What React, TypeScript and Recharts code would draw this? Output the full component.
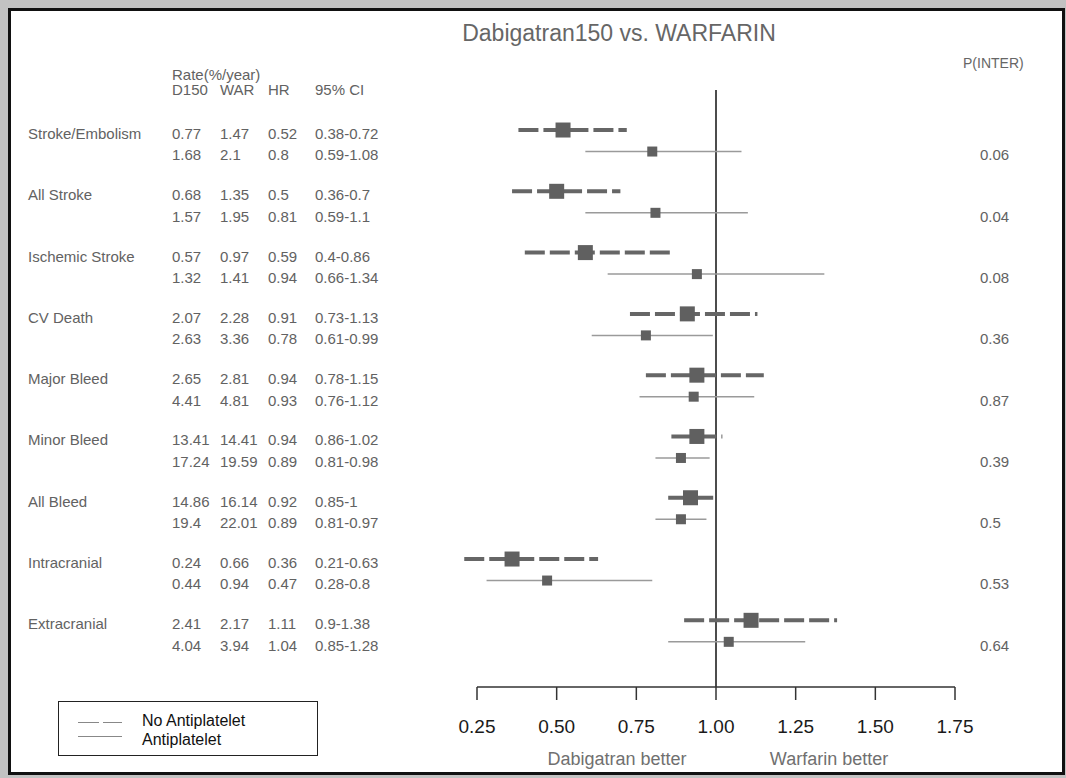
import React from 'react';
import { ComposedChart, Scatter, XAxis, YAxis, ReferenceLine } from 'recharts';

const outcomes = [
  'Stroke/Embolism', 'All Stroke', 'Ischemic Stroke', 'CV Death', 'Major Bleed',
  'Minor Bleed', 'All Bleed', 'Intracranial', 'Extracranial',
];

// no antiplatelet
const d150NoAP = [0.77, 0.68, 0.57, 2.07, 2.65, 13.41, 14.86, 0.24, 2.41];
const warNoAP = [1.47, 1.35, 0.97, 2.28, 2.81, 14.41, 16.14, 0.66, 2.17];
const hrNoAP = [0.52, 0.5, 0.59, 0.91, 0.94, 0.94, 0.92, 0.36, 1.11];
const loNoAP = [0.38, 0.36, 0.4, 0.73, 0.78, 0.86, 0.85, 0.21, 0.9];
const hiNoAP = [0.72, 0.7, 0.86, 1.13, 1.15, 1.02, 1, 0.63, 1.38];

// antiplatelet
const d150AP = [1.68, 1.57, 1.32, 2.63, 4.41, 17.24, 19.4, 0.44, 4.04];
const warAP = [2.1, 1.95, 1.41, 3.36, 4.81, 19.59, 22.01, 0.94, 3.94];
const hrAP = [0.8, 0.81, 0.94, 0.78, 0.93, 0.89, 0.89, 0.47, 1.04];
const loAP = [0.59, 0.59, 0.66, 0.61, 0.76, 0.81, 0.81, 0.28, 0.85];
const hiAP = [1.08, 1.1, 1.34, 0.99, 1.12, 0.98, 0.97, 0.8, 1.28];

const pInter = [0.06, 0.04, 0.08, 0.36, 0.87, 0.39, 0.5, 0.53, 0.64];

const xTicks = [0.25, 0.5, 0.75, 1.0, 1.25, 1.5, 1.75];

const SUB = 0.351; // second line of each outcome, in row units

type Row = {
  pos: number;
  first: boolean;
  label: string;
  d150: number;
  war: number;
  hr: number;
  lo: number;
  hi: number;
  p: number;
};

const rows: Row[] = [];
outcomes.forEach((o, i) => {
  rows.push({ pos: i, first: true, label: o, d150: d150NoAP[i], war: warNoAP[i], hr: hrNoAP[i], lo: loNoAP[i], hi: hiNoAP[i], p: pInter[i] });
  rows.push({ pos: i + SUB, first: false, label: o, d150: d150AP[i], war: warAP[i], hr: hrAP[i], lo: loAP[i], hi: hiAP[i], p: pInter[i] });
});
const noApRows = rows.filter(r => r.first);
const apRows = rows.filter(r => !r.first);

const TXT = '#626262';
const FONT = '"Liberation Sans", Arial, sans-serif';

const RowTick = (props: any) => {
  const { y, payload } = props;
  const r = rows.find(row => Math.abs(row.pos - Number(payload?.value)) < 1e-6);
  if (!r) return null;
  const ty = y + 3.7;
  const common = { y: ty, dy: '0.35em', fill: TXT, fontSize: 15, fontFamily: FONT };
  return (
    <g>
      {r.first && <text x={28} {...common}>{r.label}</text>}
      <text x={172} {...common}>{String(r.d150)}</text>
      <text x={220} {...common}>{String(r.war)}</text>
      <text x={268} {...common}>{String(r.hr)}</text>
      <text x={315} {...common}>{`${r.lo}-${r.hi}`}</text>
      {!r.first && <text x={980} {...common}>{String(r.p)}</text>}
    </g>
  );
};

const square = (size: number) => (props: any) => {
  const { cx, cy } = props;
  return <rect x={cx - size / 2} y={cy - size / 2} width={size} height={size} fill="#606060" />;
};

const Txt = ({ x, y, size, color, center, children }: any) => (
  <div
    style={{
      position: 'absolute',
      left: x,
      top: y,
      transform: center ? 'translate(-50%, -50%)' : 'translateY(-50%)',
      fontSize: size,
      color,
      lineHeight: 1,
      whiteSpace: 'nowrap',
      fontFamily: FONT,
    }}
  >
    {children}
  </div>
);

export default function App() {
  return (
    <div style={{ position: 'absolute', left: 0, top: 0, width: 1066, height: 778, background: '#c2c2c2', overflow: 'hidden' }}>
      <div
        style={{
          position: 'absolute', left: 8, top: 8, width: 1057, height: 767,
          boxSizing: 'border-box', border: '3px solid #111', background: '#fff',
        }}
      />
      <Txt x={619} y={33} size={23} color="#666" center>Dabigatran150 vs. WARFARIN</Txt>
      <Txt x={963} y={63} size={14} color="#666">P(INTER)</Txt>
      <Txt x={172} y={74} size={15} color={TXT}>Rate(%/year)</Txt>
      <Txt x={172} y={89} size={15} color={TXT}>D150</Txt>
      <Txt x={220} y={89} size={15} color={TXT}>WAR</Txt>
      <Txt x={268} y={89} size={15} color={TXT}>HR</Txt>
      <Txt x={315} y={89} size={15} color={TXT}>95% CI</Txt>
      <Txt x={617} y={759} size={18} color="#707070" center>Dabigatran better</Txt>
      <Txt x={829} y={759} size={18} color="#707070" center>Warfarin better</Txt>

      <div style={{ position: 'absolute', left: 58, top: 701, width: 260, height: 55, boxSizing: 'border-box', border: '1px solid #222' }}>
        <svg width={80} height={55} style={{ position: 'absolute', left: 0, top: 0 }}>
          <line x1={19} x2={63} y1={20.5} y2={20.5} stroke="#888" strokeWidth={1} strokeDasharray="21 4" />
          <line x1={19} x2={63} y1={34.5} y2={34.5} stroke="#888" strokeWidth={1} />
        </svg>
      </div>
      <Txt x={142} y={721} size={16} color="#111">No Antiplatelet</Txt>
      <Txt x={142} y={740} size={16} color="#111">Antiplatelet</Txt>

      <div style={{ position: 'absolute', left: 0, top: 0 }}>
        <ComposedChart width={1066} height={778} margin={{ top: 90, right: 111, bottom: 31, left: 476 }}>
          <XAxis
            type="number"
            dataKey="hr"
            domain={[0.25, 1.75]}
            ticks={xTicks}
            tickFormatter={(v: number) => v.toFixed(2)}
            allowDataOverflow
            height={60}
            tickSize={13}
            tickMargin={20}
            stroke="#333"
            strokeWidth={1.5}
            tick={{ fill: '#1a1a1a', fontSize: 19, fontFamily: FONT }}
            interval={0}
          />
          <YAxis
            type="number"
            dataKey="pos"
            domain={[-0.653, 9.088]}
            reversed
            width={1}
            ticks={rows.map(r => r.pos)}
            interval={0}
            axisLine={false}
            tickLine={false}
            tick={RowTick}
            allowDataOverflow
          />
          <ReferenceLine x={1} stroke="#111" strokeWidth={1.5} />
          {noApRows.map(r => (
            <ReferenceLine
              key={`n-${r.label}`}
              segment={[{ x: r.lo, y: r.pos }, { x: r.hi, y: r.pos }]}
              ifOverflow="visible"
              stroke="#666"
              strokeWidth={4}
              strokeDasharray="20 5"
            />
          ))}
          {apRows.map(r => (
            <ReferenceLine
              key={`a-${r.label}`}
              segment={[{ x: r.lo, y: r.pos }, { x: r.hi, y: r.pos }]}
              ifOverflow="visible"
              stroke="#9a9a9a"
              strokeWidth={1.5}
            />
          ))}
          <Scatter data={noApRows} dataKey="pos" shape={square(15)} isAnimationActive={false} />
          <Scatter data={apRows} dataKey="pos" shape={square(10)} isAnimationActive={false} />
        </ComposedChart>
      </div>
    </div>
  );
}
